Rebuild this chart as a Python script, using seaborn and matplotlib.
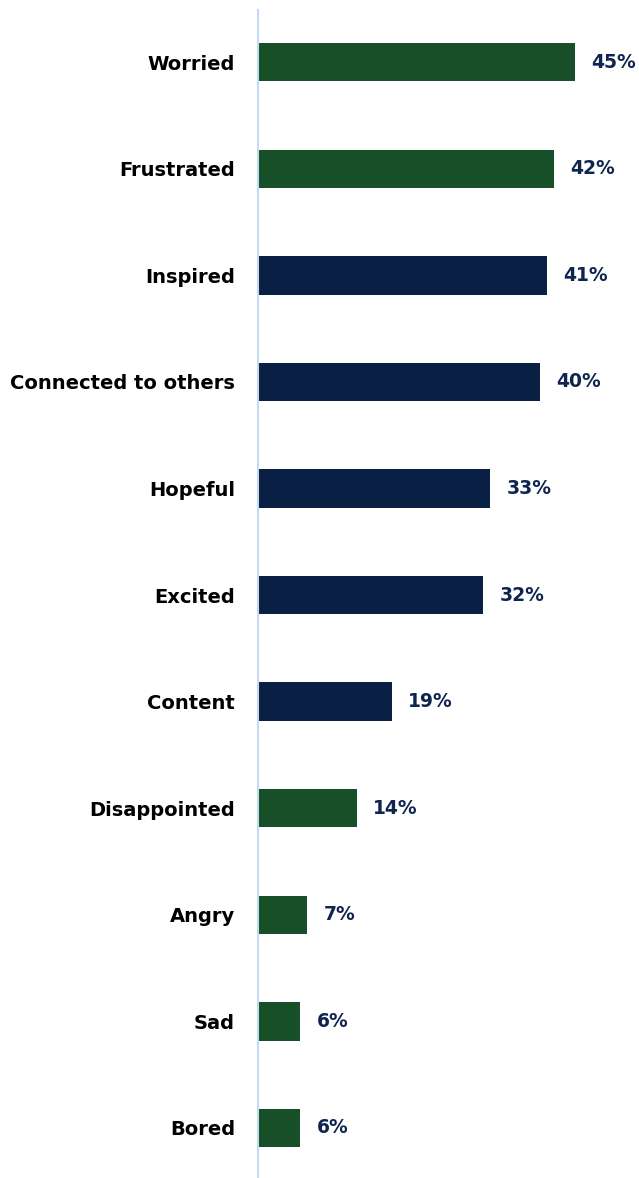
import matplotlib
matplotlib.use("Agg")
import matplotlib.pyplot as plt
import seaborn as sns
import pandas as pd

emotions = ["Worried", "Frustrated", "Inspired", "Connected to others", "Hopeful",
            "Excited", "Content", "Disappointed", "Angry", "Sad", "Bored"]
shares = [45, 42, 41, 40, 33, 32, 19, 14, 7, 6, 6]
tone = ["negative", "negative", "positive", "positive", "positive",
        "positive", "positive", "negative", "negative", "negative", "negative"]

palette = {"negative": "#174F28", "positive": "#0A1F44"}
label_color = "#0F2550"

df = pd.DataFrame({"emotion": emotions, "share": shares, "tone": tone})

sns.set_theme(style="white")
plt.rcParams["font.family"] = ["DejaVu Sans"]

fig = plt.figure(figsize=(6.39, 11.78), dpi=100)
ax = fig.add_axes([258 / 639, 0.0, 1 - 258 / 639, 1 - 10 / 1178])

sns.barplot(data=df, x="share", y="emotion", hue="tone", palette=palette,
            order=emotions, dodge=False, width=0.36, legend=False, ax=ax,
            saturation=1, linewidth=0)

for i, v in enumerate(shares):
    ax.text(v + 2.3, i, f"{v}%", va="center", ha="left", fontsize=13.5,
            fontweight="bold", color=label_color)

ax.set_xlim(0, (639 - 258) / 7.04)
ax.set_ylim(10.47, -0.49)
ax.set_xlabel("")
ax.set_ylabel("")
ax.set_xticks([])
ax.tick_params(axis="y", length=0, pad=16.5)
for lbl in ax.get_yticklabels():
    lbl.set_fontsize(14)
    lbl.set_fontweight("bold")
    lbl.set_color("black")

for side in ["top", "right", "bottom"]:
    ax.spines[side].set_visible(False)
ax.spines["left"].set_color("#C5D9F1")
ax.spines["left"].set_linewidth(1.5)

fig.savefig("out.png", dpi=100)
